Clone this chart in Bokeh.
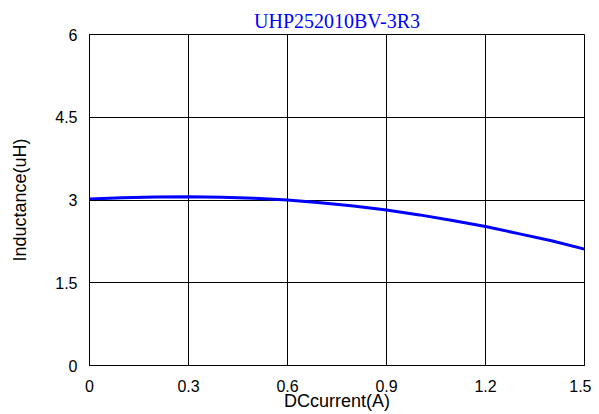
from bokeh.plotting import figure
from bokeh.models import FixedTicker, NumeralTickFormatter, Range1d
from bokeh.embed import file_html
from bokeh.resources import INLINE

# Data
current = [0.0, 0.1, 0.2, 0.3, 0.4, 0.5, 0.6, 0.7, 0.8, 0.9, 1.0, 1.1, 1.2, 1.3, 1.4, 1.5]
inductance = [3.02, 3.04, 3.055, 3.06, 3.05, 3.03, 3.0, 2.95, 2.89, 2.82, 2.73, 2.63, 2.52, 2.39, 2.26, 2.11]
x_ticks = [0, 0.3, 0.6, 0.9, 1.2, 1.5]
y_ticks = [0, 1.5, 3, 4.5, 6]
title_text = "UHP252010BV-3R3"
x_label = "DCcurrent(A)"
y_label = "Inductance(uH)"

p = figure(width=591, height=414, output_backend="svg", toolbar_location=None,
           x_range=Range1d(0, 1.5), y_range=Range1d(0, 6),
           min_border_left=89, min_border_right=7, min_border_top=34, min_border_bottom=49,
           title=title_text)

p.title.text_font = "Liberation Serif"
p.title.text_font_size = "20px"
p.title.text_font_style = "normal"
p.title.text_color = "#0000FF"
p.title.align = "center"
p.title.standoff = 5
p.title.offset = -3

p.outline_line_color = "black"
p.outline_line_width = 1
p.background_fill_color = "white"
p.border_fill_color = "white"

for ax in (p.xaxis[0], p.yaxis[0]):
    ax.major_label_text_font = "Liberation Sans"
    ax.major_label_text_font_size = "16px"
    ax.major_label_text_color = "black"
    ax.axis_label_text_font = "Liberation Sans"
    ax.axis_label_text_font_size = "18px"
    ax.axis_label_text_font_style = "normal"
    ax.axis_label_text_color = "black"
    ax.axis_line_color = "black"
    ax.major_tick_in = 8
    ax.major_tick_out = 0
    ax.major_tick_line_color = "black"
    ax.minor_tick_line_color = None
    ax.formatter = NumeralTickFormatter(format="0.[0]")

p.xaxis[0].ticker = FixedTicker(ticks=x_ticks)
p.yaxis[0].ticker = FixedTicker(ticks=y_ticks)
p.xaxis[0].axis_label = x_label
p.yaxis[0].axis_label = y_label
p.xaxis[0].major_label_standoff = 14
p.xaxis[0].axis_label_standoff = -4
p.yaxis[0].major_label_standoff = 12
p.yaxis[0].axis_label_standoff = 22

p.xgrid[0].ticker = FixedTicker(ticks=x_ticks)
p.ygrid[0].ticker = FixedTicker(ticks=y_ticks)
for g in (p.xgrid[0], p.ygrid[0]):
    g.grid_line_color = "black"
    g.grid_line_alpha = 1.0
    g.grid_line_width = 1

p.line(current, inductance, line_color="#0000FF", line_width=3)

open("out.html", "w").write(file_html(p, INLINE))
